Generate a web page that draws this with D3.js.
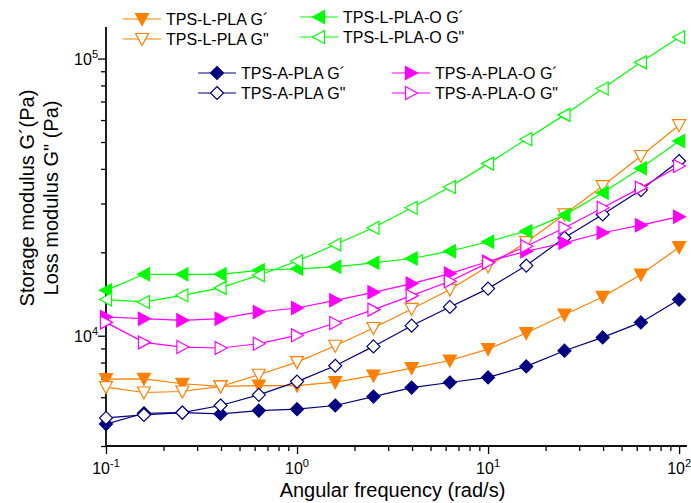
<!DOCTYPE html>
<html><head><meta charset="utf-8">
<script src="https://cdn.jsdelivr.net/npm/d3@7"></script>
<style>body{margin:0;background:#fff}svg{display:block}text{font-family:"Liberation Sans",Arial,sans-serif;fill:#000}</style>
</head><body><svg id="c" width="691" height="503"></svg>
<script>
const frequency = [0.1,0.158,0.251,0.398,0.631,1,1.585,2.512,3.981,6.31,10,15.85,25.12,39.81,63.1,100];
const lplaG1  = [6970,6990,6710,6560,6610,6610,6800,7180,7640,8140,8950,10230,11910,13800,16620,20860];
const lplaG2  = [6520,6240,6290,6560,7230,8030,9200,10660,12490,14670,17810,21750,27390,34670,44510,57490];
const lplaoG1 = [14580,16660,16660,16660,17230,17430,17720,18320,18990,20180,21830,23840,27240,32820,40180,50440];
const lplaoG2 = [13500,13240,13990,14880,16520,18570,21340,24520,28960,34390,41780,51160,62640,78030,96900,119300];
const aplaG1  = [4800,5250,5280,5220,5370,5430,5600,6030,6500,6780,7070,7750,8830,9860,11170,13500];
const aplaG2  = [5050,5180,5280,5600,6120,6830,7790,9150,10870,12700,14790,17910,22560,27390,33540,42700];
const aplaoG1 = [11680,11520,11360,11520,12180,12590,13420,14340,15420,16760,18520,20180,21640,23520,25060,26880];
const aplaoG2 = [11170,9460,9100,9030,9360,10030,11110,12420,13950,15720,18320,21040,24520,28960,34220,40950];
const seriesNames = ["TPS-L-PLA G´","TPS-L-PLA G\"","TPS-L-PLA-O G´","TPS-L-PLA-O G\"","TPS-A-PLA G´","TPS-A-PLA G\"","TPS-A-PLA-O G´","TPS-A-PLA-O G\""];
const xTickExps = [-1,0,1,2];
const yTickExps = [4,5];
const xTitle = "Angular frequency (rad/s)";
const yTitle1 = "Storage modulus G´(Pa)";
const yTitle2 = "Loss modulus G\" (Pa)";

const series = [
  {name:seriesNames[0], values:lplaG1,  color:"#FF8000", shape:"down",  filled:true,  leg:[123,19]},
  {name:seriesNames[1], values:lplaG2,  color:"#FF8000", shape:"down",  filled:false, leg:[123,39]},
  {name:seriesNames[2], values:lplaoG1, color:"#00FF00", shape:"left",  filled:true,  leg:[300,17]},
  {name:seriesNames[3], values:lplaoG2, color:"#00FF00", shape:"left",  filled:false, leg:[300,37]},
  {name:seriesNames[4], values:aplaG1,  color:"#000080", shape:"diamond",filled:true, leg:[198,73]},
  {name:seriesNames[5], values:aplaG2,  color:"#000080", shape:"diamond",filled:false,leg:[198,93]},
  {name:seriesNames[6], values:aplaoG1, color:"#FF00FF", shape:"right", filled:true,  leg:[392,73]},
  {name:seriesNames[7], values:aplaoG2, color:"#FF00FF", shape:"right", filled:false, leg:[392,93]}
];

const svg = d3.select("#c");
const L=106, R=687, T=27, B=446;
const x = d3.scaleLog().domain([0.1,110]).range([L,R]);
const y = d3.scaleLog().domain([4000,130000]).range([B,T]);

const shapes = {
  down: "M-6.5,-5.5L6.5,-5.5L0,6.5Z",
  left: "M-6.5,0L5.5,-6.5L5.5,6.5Z",
  right:"M6.5,0L-5.5,-6.5L-5.5,6.5Z",
  diamond:"M0,-6.5L6.5,0L0,6.5L-6.5,0Z"
};

// axes
const xMinor = [];
for (let e=-1;e<2;e++) for (let m=2;m<=9;m++) xMinor.push(m*Math.pow(10,e));
const yMinor = [5000,6000,7000,8000,9000,20000,30000,40000,50000,60000,70000,80000,90000,4000];
const gx = svg.append("g").attr("transform",`translate(0,${B})`);
gx.call(d3.axisBottom(x).tickValues(xMinor).tickSize(5).tickFormat("").tickSizeOuter(0));
gx.append("g").call(d3.axisBottom(x).tickValues(xTickExps.map(e=>Math.pow(10,e))).tickSize(8).tickFormat("").tickSizeOuter(0));
gx.selectAll("path.domain").attr("d",`M${L},0H${R}`);
const gy = svg.append("g").attr("transform",`translate(${L},0)`);
gy.call(d3.axisLeft(y).tickValues(yMinor).tickSize(5).tickFormat("").tickSizeOuter(0));
gy.append("g").call(d3.axisLeft(y).tickValues(yTickExps.map(e=>Math.pow(10,e))).tickSize(8).tickFormat("").tickSizeOuter(0));
gy.selectAll("path.domain").attr("d",`M0,${T}V${B}`);
svg.selectAll(".domain, .tick line").attr("stroke","#000").attr("stroke-width",1.3);

xTickExps.forEach(e=>{
  const t = svg.append("text").attr("x",x(Math.pow(10,e))).attr("y",474).attr("text-anchor","middle").style("font-size","16px");
  t.append("tspan").text("10");
  t.append("tspan").attr("dy",-7).style("font-size","11px").text(String(e).replace("-","-"));
});
yTickExps.forEach(e=>{
  const t = svg.append("text").attr("x",98).attr("y",y(Math.pow(10,e))+6).attr("text-anchor","end").style("font-size","16px");
  t.append("tspan").text("10");
  t.append("tspan").attr("dy",-7).style("font-size","11px").text(String(e));
});

svg.append("text").attr("x",(L+R)/2-4).attr("y",497).attr("text-anchor","middle").style("font-size","20px").text(xTitle);
svg.append("text").attr("transform","translate(34,198) rotate(-90)").attr("text-anchor","middle").style("font-size","20px").text(yTitle1);
svg.append("text").attr("transform","translate(58,198) rotate(-90)").attr("text-anchor","middle").style("font-size","20px").text(yTitle2);

// data
const line = d3.line().x(d=>x(d[0])).y(d=>y(d[1]));
series.forEach(s=>{
  const pts = frequency.map((f,i)=>[f,s.values[i]]);
  const g = svg.append("g");
  g.append("path").attr("d",line(pts)).attr("fill","none").attr("stroke",s.color).attr("stroke-width",1.2);
  g.selectAll("path.m").data(pts).join("path").attr("class","m")
    .attr("d",shapes[s.shape]).attr("transform",d=>`translate(${x(d[0])},${y(d[1])})`)
    .attr("fill",s.filled?s.color:"#fff").attr("stroke",s.color).attr("stroke-width",1.2);
});

// legend
series.forEach(s=>{
  const [lx,ly]=s.leg;
  const g = svg.append("g").attr("transform",`translate(${lx},${ly})`);
  g.append("line").attr("x1",0).attr("x2",38).attr("y1",0).attr("y2",0).attr("stroke",s.color).attr("stroke-width",1.2);
  g.append("path").attr("d",shapes[s.shape]).attr("transform","translate(19,0)").attr("fill",s.filled?s.color:"#fff").attr("stroke",s.color).attr("stroke-width",1.2);
  g.append("text").attr("x",43).attr("y",6).style("font-size","16px").text(s.name);
});
</script></body></html>
